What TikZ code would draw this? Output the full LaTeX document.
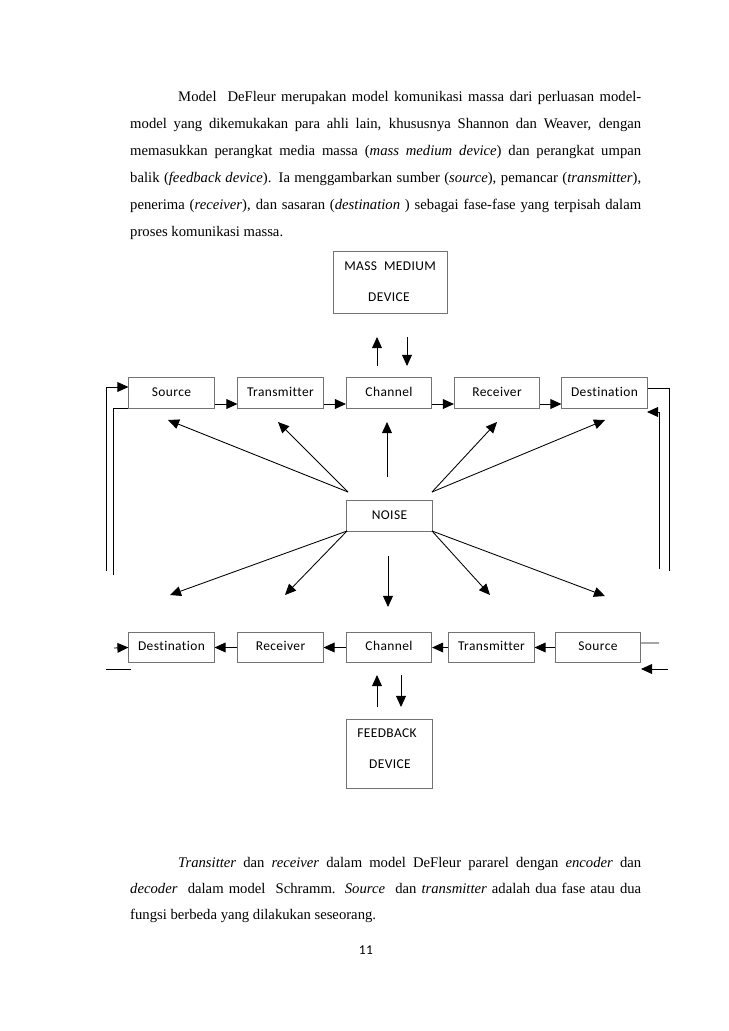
\documentclass[tikz,border=0pt]{standalone}
\usepackage{fontspec}
\setmainfont{Liberation Serif}[ItalicFont={* Italic}]
\newfontfamily\calibrifont[Ligatures=NoCommon,LetterSpace=3]{Carlito}
\usetikzlibrary{arrows.meta}
\begin{document}
\begin{tikzpicture}[x=0.8173pt,y=-0.8173pt,
  box/.style={draw=black!55, line width=0.6pt, inner sep=0pt, minimum width=69.8pt, minimum height=24.8pt, text height=7.6pt, text depth=2.4pt, font=\calibrifont\fontsize{11}{13}\selectfont},
  lbl/.style={inner sep=0pt, font=\calibrifont\fontsize{11}{13}\selectfont},
  con/.style={draw=black, line width=0.7pt},
  arr/.style={con, -{Triangle[length=9pt,width=8pt]}},
  txt/.style={inner sep=0pt, anchor=base west, font=\fontsize{12}{14}\selectfont}]
\useasboundingbox[fill=white] (0,0) rectangle (728,1031);

% paragraph 1
\node[txt] (p1) at (178,101.5) {\makebox[378.4pt][s]{Model\ \ DeFleur merupakan model komunikasi massa dari perluasan model-}};
\node[txt] (p2) at (130,128.5) {\makebox[417.6pt][s]{model yang dikemukakan para ahli lain, khususnya Shannon dan Weaver, dengan}};
\node[txt] (p3) at (130,155.5) {\makebox[417.6pt][s]{memasukkan perangkat media massa (\textit{mass medium device}) dan perangkat umpan}};
\node[txt] (p4) at (130,182.5) {\makebox[417.6pt][s]{balik (\textit{feedback device}). Ia menggambarkan sumber (\textit{source}), pemancar (\textit{transmitter}),}};
\node[txt] (p5) at (130,209.5) {\makebox[417.6pt][s]{penerima (\textit{receiver}), dan sasaran (\textit{destination} ) sebagai fase-fase yang terpisah dalam}};
\node[txt] (p6) at (130,236.5) {proses komunikasi massa.};

% mass medium device
\node[box, minimum width=93.2pt, minimum height=50.7pt] (mass) at (390,282) {};
\node[lbl, anchor=west] (mass1) at (344,266) {MASS\ \ MEDIUM};
\node[lbl] (mass2) at (389,297) {DEVICE};

% top row
\node[box] (s1) at (171.5,393) {Source};
\node[box] (t1) at (280.5,393) {Transmitter};
\node[box] (c1) at (389,393) {Channel};
\node[box] (r1) at (497,393) {Receiver};
\node[box] (d1) at (604.5,393) {Destination};

\draw[arr] ([yshift=-9pt]s1.east) -- ([yshift=-9pt]t1.west);
\draw[arr] ([yshift=-9pt]t1.east) -- ([yshift=-9pt]c1.west);
\draw[arr] ([yshift=-9pt]c1.east) -- ([yshift=-9pt]r1.west);
\draw[arr] ([yshift=-9pt]r1.east) -- ([yshift=-9pt]d1.west);

% arrows channel <-> mass medium
\coordinate (mu0) at (377,366); \coordinate (mu1) at (377,337);
\coordinate (md0) at (407,337); \coordinate (md1) at (407,366);
\draw[arr] (mu0) -- (mu1);
\draw[arr] (md0) -- (md1);

% left feedback lines
\coordinate (lo) at (106,571);
\coordinate (li) at (113,575);
\draw[arr] (lo) |- ([yshift=4.9pt]s1.west);
\draw[con] (li) |- (s1.south west);

% right feedback lines
\coordinate (ro) at (669,571);
\coordinate (ri) at (659,569);
\coordinate (rt) at (647,412);
\draw[con] ([yshift=4pt]d1.east) -| (ro);
\draw[arr] (ri) |- (rt);

% noise
\node[box] (noise) at (389.5,516) {NOISE};
\coordinate (nul) at (348,492);
\coordinate (nur) at (432,492);
\coordinate (nll) at (347,531);
\coordinate (nlr) at (432,531);
\coordinate (nvu) at (387,477);
\coordinate (nvd) at (388,556);
\coordinate (u1) at (168,420);
\coordinate (u2) at (278,422);
\coordinate (u3) at (387,422);
\coordinate (u4) at (497,422);
\coordinate (u5) at (605,420);
\coordinate (b1) at (170,595);
\coordinate (b2) at (285,595);
\coordinate (b3) at (388,607);
\coordinate (b4) at (490,595);
\coordinate (b5) at (605,596);
\draw[arr] (nul) -- (u1);
\draw[arr] (nul) -- (u2);
\draw[arr] (nvu) -- (u3);
\draw[arr] (nur) -- (u4);
\draw[arr] (nur) -- (u5);
\draw[arr] (nll) -- (b1);
\draw[arr] (nll) -- (b2);
\draw[arr] (nvd) -- (b3);
\draw[arr] (nlr) -- (b4);
\draw[arr] (nlr) -- (b5);

% bottom row
\node[box] (d2) at (171.5,647.5) {Destination};
\node[box] (r2) at (280.5,647.5) {Receiver};
\node[box] (c2) at (389,647.5) {Channel};
\node[box] (t2) at (491.5,647.5) {Transmitter};
\node[box] (s2) at (598,647.5) {Source};

\draw[arr] (s2.west) -- (t2.east);
\draw[arr] (t2.west) -- (c2.east);
\draw[arr] (c2.west) -- (r2.east);
\draw[arr] (r2.west) -- (d2.east);

% bottom feedback stubs
\coordinate (bl1) at (114,648);
\coordinate (bl2) at (106,669);
\coordinate (bl3) at (131,669);
\draw[arr] (bl1) -- (d2.west);
\draw[con] (bl2) -- (bl3);
\coordinate (br1) at (659,643);
\coordinate (br2) at (668,669);
\coordinate (br3) at (641,669);
\draw[con] ([yshift=3.7pt]s2.east) -- (br1);
\draw[arr] (br2) -- (br3);

% arrows channel <-> feedback
\coordinate (fu0) at (377,707); \coordinate (fu1) at (377,675);
\coordinate (fd0) at (401,675); \coordinate (fd1) at (401,707);
\draw[arr] (fu0) -- (fu1);
\draw[arr] (fd0) -- (fd1);

% feedback device
\node[box, minimum height=56.4pt] (fb) at (389.5,753.5) {};
\node[lbl, anchor=west] (fb1) at (357,733) {FEEDBACK};
\node[lbl] (fb2) at (390,764) {DEVICE};

% paragraph 2
\node[txt] (q1) at (178,867) {\makebox[378.4pt][s]{\textit{Transitter} dan \textit{receiver} dalam model DeFleur pararel dengan \textit{encoder} dan}};
\node[txt] (q2) at (130,893) {\makebox[417.6pt][s]{\textit{decoder}\ \ dalam model\ \ Schramm. \textit{Source}\ \ dan \textit{transmitter} adalah dua fase atau dua}};
\node[txt] (q3) at (130,919) {fungsi berbeda yang dilakukan seseorang.};

\node[lbl] (pg) at (366,950) {11};
\end{tikzpicture}
\end{document}
